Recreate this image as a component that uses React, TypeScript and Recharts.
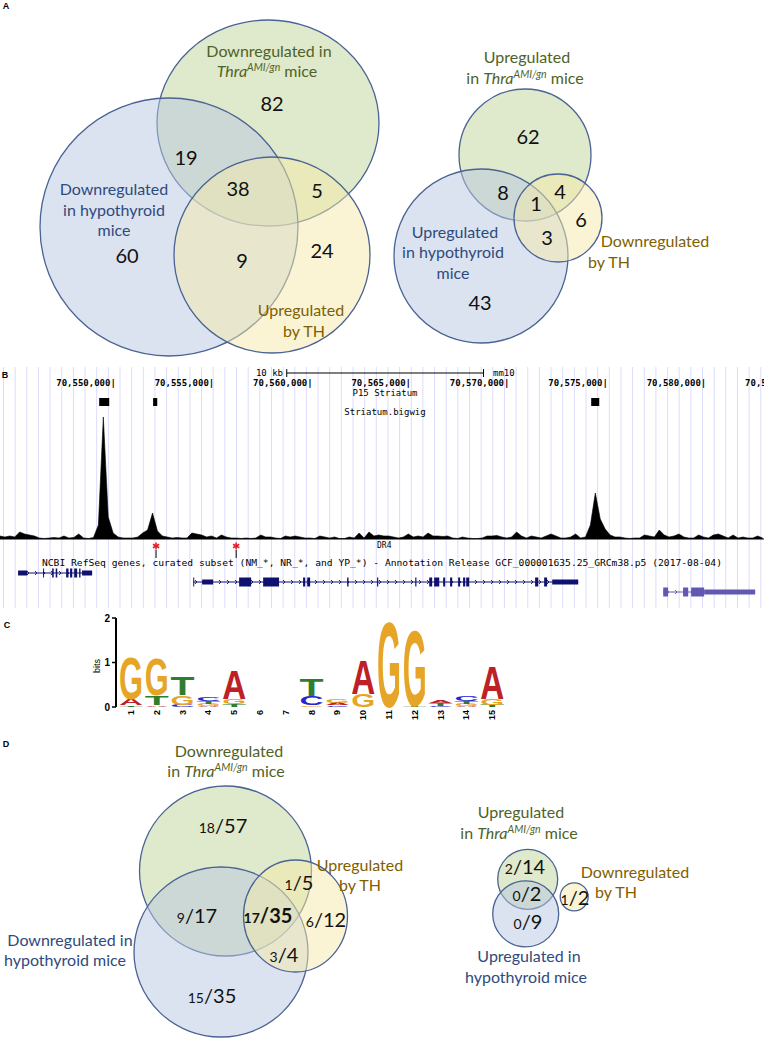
import React from 'react';
import {
  ScatterChart, Scatter, ComposedChart, Area, BarChart, Bar, XAxis, YAxis,
  CartesianGrid, ReferenceArea, ReferenceLine,
} from 'recharts';

const SANS = 'Lato, "Open Sans", sans-serif';
const MONO = '"DejaVu Sans Mono", "Liberation Mono", monospace';
const ARIAL = '"Liberation Sans", Arial, sans-serif';

const SET_COLORS: Record<string, string> = { thra: '#4f6228', hypo: '#2f4a7d', th: '#7f6000' };
const SET_FILLS: Record<string, string> = { thra: '#c0d498', hypo: '#b7c7e1', th: '#f5e9a9' };
const CIRCLE_STROKE = '#4a6394';

// ---------- Venn data (A and D) ----------
const vennSets = ['thra', 'hypo', 'th'];

const aLeftSetLabels = [['Downregulated in', 'Thra^AMI/gn mice'], ['Downregulated', 'in hypothyroid', 'mice'], ['Upregulated', 'by TH']];
const aLeftCounts = ['82', '19', '38', '5', '60', '9', '24'];

const aRightSetLabels = [['Upregulated', 'in Thra^AMI/gn mice'], ['Upregulated', 'in hypothyroid', 'mice'], ['Downregulated', 'by TH']];
const aRightCounts = ['62', '8', '4', '1', '6', '3', '43'];

const dLeftSetLabels = [['Downregulated', 'in Thra^AMI/gn mice'], ['Downregulated in', 'hypothyroid mice'], ['Upregulated', 'by TH']];
const dLeftCounts = ['18/57', '9/17', '17/35', '1/5', '6/12', '3/4', '15/35'];

const dRightSetLabels = [['Upregulated', 'in Thra^AMI/gn mice'], ['Upregulated in', 'hypothyroid mice'], ['Downregulated', 'by TH']];
const dRightCounts = ['2/14', '0/2', '0/9', '1/2'];

// layout of each diagram, in px inside its own chart box
const aLeftLayout = {
  circles: [[268, 123, 111, 103], [169, 227, 129, 129], [272, 255, 98, 98]],
  labels: [[[269, 52], [267, 72]], [[114, 190], [114, 211], [114, 231]], [[301, 311], [304, 332]]],
  counts: [[272, 104], [186, 158], [238, 189], [317, 191], [127, 256], [242, 261], [322, 251]],
  bold: [] as number[],
};
const aRightLayout = {
  circles: [[143, 155, 66, 66], [99, 256, 87, 87], [176, 218, 44, 44]],
  labels: [[[145, 58], [143, 79]], [[73, 233], [71, 253], [71, 274]], [[273, 242], [227, 263]]],
  counts: [[146, 137], [121, 193], [178, 192], [154, 204], [199, 220], [165, 238], [98, 303]],
  bold: [] as number[],
};
const dLeftLayout = {
  circles: [[225.5, 151, 86, 85], [221, 232, 87, 85], [295.5, 196, 52, 56]],
  labels: [[[229, 32], [226, 52]], [[70, 221], [65, 241]], [[360, 146], [360, 166]]],
  counts: [[223, 106], [197, 196], [268, 196], [299, 163], [326, 200], [284, 235], [212, 276]],
  bold: [2],
};
const dRightLayout = {
  circles: [[145.7, 159.3, 30, 30], [143.7, 193.8, 33, 33], [192.2, 176.8, 14, 14]],
  labels: [[[139, 93], [137, 114]], [[147, 237], [144, 258]], [[253, 153], [234, 173]]],
  counts: [[143, 147], [145, 174], [146, 202], [193, 178]],
  bold: [] as number[],
};

// ---------- Panel B: genome browser (positions in kb) ----------
const rulerTicks = [70550, 70555, 70560, 70565, 70570, 70575, 70580, 70585];
const signalStart = 70544.25;
const signalBin = 0.25;
const striatumSignal = [
  3, 2, 3, 2, 7, 5, 4, 3, 1, 0.5,
  1, 1.5, 1, 3, 1, 1.5, 5, 1, 0.5, 1.5,
  14, 122, 22, 6, 2, 1, 1, 1, 2, 6,
  9, 26, 8, 3, 2, 1, 1.5, 1, 1, 6,
  5, 4, 2, 3, 1, 4, 2, 1, 1, 0.5,
  1, 0.5, 1, 4, 2, 2, 1, 0.5, 3, 2,
  3, 2, 1, 1, 0.5, 3, 2, 1, 2, 0.5,
  0.5, 2, 1, 6, 1, 7, 3, 4, 3, 3,
  2, 1, 2, 5, 2, 3, 2, 6, 3, 3,
  2.5, 3, 1, 0.5, 2, 1, 0.5, 0.5, 1, 3,
  3, 3.5, 2, 1, 2, 7, 3, 1, 3, 2,
  1, 3, 5, 3, 1, 1, 2, 5, 1, 2,
  14, 46, 20, 10, 4, 2, 2, 1, 0.5, 1,
  1, 4, 3, 2, 9, 4, 2, 3, 5, 2,
  1, 1, 4, 2, 1, 4, 5, 3, 1, 4,
  1, 2, 1, 1, 3, 1,
];
const peakCalls = [[70549.29, 70549.8], [70552.03, 70552.24], [70574.29, 70574.7]];
const dr4Sites = [70552.18, 70556.25];
const scaleBar = [70558.82, 70568.82];
// exons: [start, end, 't' coding | 'u' utr]
const gene1Exons: [number, number, string][] = [
  [70545.17, 70545.63, 'u'], [70546.44, 70546.49, 't'], [70546.9, 70546.98, 't'], [70547.08, 70547.16, 't'],
  [70547.61, 70547.73, 't'], [70547.81, 70547.92, 't'], [70548.02, 70548.17, 't'], [70548.27, 70548.34, 't'],
  [70548.42, 70548.93, 'u'],
];
const gene2Exons: [number, number, string][] = [
  [70554.07, 70554.12, 't'], [70554.52, 70555.08, 'u'], [70556.4, 70557.01, 't'], [70557.62, 70558.43, 't'],
  [70559.65, 70559.76, 't'], [70559.86, 70560.01, 't'], [70561.89, 70561.96, 't'], [70563.41, 70563.47, 't'],
  [70565.35, 70565.41, 't'], [70566.06, 70566.21, 't'], [70566.31, 70566.57, 't'], [70566.77, 70566.87, 't'],
  [70567.12, 70567.23, 't'], [70567.53, 70567.63, 't'], [70567.78, 70567.89, 't'], [70567.94, 70568.09, 't'],
  [70571.44, 70571.6, 't'], [70571.9, 70572.05, 't'], [70572.31, 70573.63, 'u'],
];
const gene3Exons: [number, number, string][] = [
  [70577.95, 70578.2, 't'], [70578.96, 70579.22, 't'], [70579.37, 70580.03, 't'], [70580.03, 70582.62, 'u'],
];

// ---------- Panel C: sequence logo ----------
const logoPositions = ['1', '2', '3', '4', '5', '6', '7', '8', '9', '10', '11', '12', '13', '14', '15'];
const logoLetters = [
  ['T', 'A', 'G'], ['A', 'T', 'G'], ['C', 'G', 'T'], ['A', 'G', 'T', 'C'], ['T', 'G', 'A'], [], [],
  ['G', 'C', 'T'], ['C', 'A', 'G'], ['G', 'A'], ['G'], ['T', 'G'], ['C', 'T', 'A'], ['A', 'G', 'T', 'C'], ['T', 'G', 'A'],
];
const logoBits = [
  [0.04, 0.14, 0.95], [0.04, 0.22, 0.83], [0.05, 0.21, 0.41], [0.02, 0.05, 0.07, 0.1], [0.06, 0.13, 0.64], [], [],
  [0.04, 0.2, 0.38], [0.04, 0.05, 0.08], [0.3, 0.77], [1.93], [0.02, 1.73], [0.03, 0.05, 0.07], [0.02, 0.05, 0.07, 0.11], [0.05, 0.14, 0.75],
];
const LOGO_COLORS: Record<string, string> = { A: '#bd2026', C: '#2727cf', G: '#e6a526', T: '#2e7d30' };

// ---------- builders ----------
type Layout = { circles: number[][]; labels: number[][][]; counts: number[][]; bold: number[] };

function buildVenn(setLabels: string[][], counts: string[], layout: Layout) {
  const circles = vennSets.map((s, i) => ({
    x: layout.circles[i][0], y: layout.circles[i][1], rx: layout.circles[i][2], ry: layout.circles[i][3], fill: SET_FILLS[s],
  }));
  const labels = setLabels.flatMap((lines, i) =>
    lines.map((text, j) => ({ x: layout.labels[i][j][0], y: layout.labels[i][j][1], text, color: SET_COLORS[vennSets[i]] })));
  const countRows = counts.map((text, i) => ({ x: layout.counts[i][0], y: layout.counts[i][1], text, bold: layout.bold.includes(i) }));
  return { circles, labels, countRows };
}

const renderLabelLine = (text: string) => {
  const parts = text.split('Thra^AMI/gn');
  if (parts.length === 1) return text;
  return (
    <>
      {parts[0]}
      <tspan fontStyle="italic">Thra</tspan>
      <tspan fontStyle="italic" fontSize={10.5} dy={-6}>AMI/gn</tspan>
      <tspan dy={6}>{parts[1]}</tspan>
    </>
  );
};

const SetLabelShape = (p: any) => (
  <text x={p.cx} y={p.cy} dy={5} textAnchor="middle" fontFamily={SANS} fontSize={16} fill={p.payload.color}>
    {renderLabelLine(p.payload.text)}
  </text>
);

const CountShape = (p: any) => {
  const [num, den] = String(p.payload.text).split('/');
  return (
    <text x={p.cx} y={p.cy} dy={7} textAnchor="middle" fontFamily={SANS} fontSize={20}
      fontWeight={p.payload.bold ? 700 : 400} fill="#111">
      {den === undefined ? num : (<><tspan fontSize={14}>{num}</tspan><tspan>/{den}</tspan></>)}
    </text>
  );
};

const VennChart = ({ width, height, venn }: { width: number; height: number; venn: ReturnType<typeof buildVenn> }) => {
  const kx = width / width; // x domain spans the chart width
  const ky = height / height;
  return (
    <ScatterChart width={width} height={height} margin={{ top: 0, right: 0, bottom: 0, left: 0 }}>
      <XAxis type="number" dataKey="x" domain={[0, width]} hide height={0} />
      <YAxis type="number" dataKey="y" domain={[0, height]} reversed hide width={0} />
      <Scatter data={venn.circles} isAnimationActive={false}
        shape={(p: any) => (
          <ellipse cx={p.cx} cy={p.cy} rx={p.payload.rx * kx} ry={p.payload.ry * ky}
            fill={p.payload.fill} fillOpacity={0.5} stroke={CIRCLE_STROKE} strokeWidth={1.3} />
        )} />
      <Scatter data={venn.labels} isAnimationActive={false} shape={SetLabelShape} />
      <Scatter data={venn.countRows} isAnimationActive={false} shape={CountShape} />
    </ScatterChart>
  );
};

const vennALeft = buildVenn(aLeftSetLabels, aLeftCounts, aLeftLayout);
const vennARight = buildVenn(aRightSetLabels, aRightCounts, aRightLayout);
const vennDLeft = buildVenn(dLeftSetLabels, dLeftCounts, dLeftLayout);
const vennDRight = buildVenn(dRightSetLabels, dRightCounts, dRightLayout);

// genome chart geometry
const GENOME_W = 820;
const GENOME_H = 241;
const PX_PER_KB = 19.68;
const X0 = 70544.25;
const X1 = X0 + GENOME_W / PX_PER_KB;
const Y_MIN = -69;
const Y_MAX = 172;
const gridX = Array.from({ length: 71 }, (_, j) => 3.5 + j * 11.65);

const signalRows = striatumSignal.map((v, i) => ({ pos: signalStart + i * signalBin, signal: v }));
const rulerRows = rulerTicks.map((t) => ({ pos: t, y: 156, label: `${(t * 1000).toLocaleString('en-US')}|` }));
const dr4Rows = dr4Sites.map((pos) => ({ pos, y: -7 }));
const genes = [
  { exons: gene1Exons, row: -34, color: '#10106f' },
  { exons: gene2Exons, row: -43, color: '#10106f' },
  { exons: gene3Exons, row: -53, color: '#6158b2' },
];

const RulerLabel = (p: any) => (
  <text x={p.cx + 2.7} y={p.cy} dy={3.2} textAnchor="end" fontFamily={MONO} fontSize={9} fontWeight={700} fill="#000">
    {p.payload.label}
  </text>
);

const Dr4Mark = (p: any) => {
  const { cx, cy } = p;
  const r = 3.6;
  return (
    <g>
      <g stroke="#e3202a" strokeWidth={1.6}>
        <line x1={cx} y1={cy - r} x2={cx} y2={cy + r} />
        <line x1={cx - r * 0.87} y1={cy - r / 2} x2={cx + r * 0.87} y2={cy + r / 2} />
        <line x1={cx - r * 0.87} y1={cy + r / 2} x2={cx + r * 0.87} y2={cy - r / 2} />
      </g>
      <line x1={cx} y1={cy + 4} x2={cx} y2={cy + 12} stroke="#000" strokeWidth={1} />
    </g>
  );
};

const GenomeTrack = () => (
  <ComposedChart width={GENOME_W} height={GENOME_H} data={signalRows} margin={{ top: 0, right: 0, bottom: 0, left: 0 }}>
    <CartesianGrid horizontal={false} verticalPoints={gridX} stroke="#dcdcfa" strokeWidth={1} />
    <XAxis type="number" dataKey="pos" domain={[X0, X1]} allowDataOverflow hide height={0} />
    <YAxis type="number" domain={[Y_MIN, Y_MAX]} allowDataOverflow hide width={0} />
    <Area dataKey="signal" type="linear" baseValue={0} stroke="#000" strokeWidth={0.6} fill="#000" fillOpacity={1}
      dot={false} activeDot={false} isAnimationActive={false} />
    <ReferenceLine y={0} stroke="#000" strokeWidth={1} />
    {peakCalls.map(([a, b], i) => (
      <ReferenceArea key={`pk${i}`} x1={a} x2={b} y1={133} y2={141} fill="#000" fillOpacity={1} stroke="none" ifOverflow="visible" />
    ))}
    <ReferenceLine segment={[{ x: scaleBar[0], y: 166 }, { x: scaleBar[1], y: 166 }]} stroke="#000" strokeWidth={1} />
    <ReferenceLine segment={[{ x: scaleBar[0], y: 162 }, { x: scaleBar[0], y: 170 }]} stroke="#000" strokeWidth={1} />
    <ReferenceLine segment={[{ x: scaleBar[1], y: 162 }, { x: scaleBar[1], y: 170 }]} stroke="#000" strokeWidth={1} />
    <Scatter data={rulerRows} dataKey="y" isAnimationActive={false} shape={RulerLabel} />
    <Scatter data={dr4Rows} dataKey="y" isAnimationActive={false} shape={Dr4Mark} />
    {genes.map((g, gi) => {
      const start = Math.min(...g.exons.map((e) => e[0]));
      const end = Math.max(...g.exons.map((e) => e[1]));
      return [
        <ReferenceArea key={`in${gi}`} x1={start} x2={end} y1={g.row - 4} y2={g.row + 4}
          fill={`url(#intron${gi})`} fillOpacity={1} stroke="none" ifOverflow="visible" />,
        ...g.exons.map(([a, b, kind], ei) => {
          const h = kind === 't' ? 4.5 : 2.5;
          return (
            <ReferenceArea key={`ex${gi}-${ei}`} x1={a} x2={b} y1={g.row - h} y2={g.row + h}
              fill={g.color} fillOpacity={1} stroke="none" ifOverflow="visible" />
          );
        }),
      ];
    })}
  </ComposedChart>
);

// logo rows
const logoRows = logoPositions.map((pos, i) => {
  const row: Record<string, any> = { pos };
  for (let k = 0; k < 4; k++) {
    row[`b${k}`] = logoBits[i][k] ?? 0;
    row[`l${k}`] = logoLetters[i][k] ?? '';
  }
  return row;
});

const letterShape = (k: number) => (p: any) => {
  const { x, y, width, height, payload } = p;
  const letter = payload[`l${k}`];
  if (!letter || !height || height <= 0) return <g />;
  const F = 100;
  const cap = 0.716;
  return (
    <text x={0} y={0} fontSize={F} fontFamily={ARIAL} fontWeight={700} fill={LOGO_COLORS[letter]}
      textLength={width} lengthAdjust="spacingAndGlyphs"
      transform={`translate(${x},${y + height}) scale(1,${height / (F * cap)})`}>
      {letter}
    </text>
  );
};

const LogoTick = (p: any) => {
  const { x, y, payload } = p;
  return (
    <text x={x} y={y + 1} transform={`rotate(-90 ${x} ${y + 1})`} textAnchor="end" dy="0.35em"
      fontFamily={ARIAL} fontSize={9} fontWeight={700} fill="#000">
      {payload.value}
    </text>
  );
};

const SequenceLogo = () => (
  <BarChart width={520} height={125} data={logoRows} margin={{ top: 18, right: 15, bottom: 4, left: 96 }} barCategoryGap={1}>
    <XAxis dataKey="pos" type="category" height={14} tickLine={false} axisLine={false} interval={0}
      tickSize={0} tickMargin={2} padding={{ left: 2, right: 0 }} tick={<LogoTick />} />
    <YAxis type="number" domain={[0, 2]} ticks={[0, 1, 2]} width={20} tickSize={4} tickMargin={2}
      tick={{ fontFamily: ARIAL, fontSize: 10, fontWeight: 700, fill: '#000' }}
      axisLine={{ stroke: '#000', strokeWidth: 2 }} tickLine={{ stroke: '#000', strokeWidth: 1.5 }} />
    {[0, 1, 2, 3].map((k) => (
      <Bar key={k} dataKey={`b${k}`} stackId="logo" isAnimationActive={false} shape={letterShape(k)} />
    ))}
  </BarChart>
);

const Abs = ({ left, top, children }: { left: number; top: number; children: React.ReactNode }) => (
  <div style={{ position: 'absolute', left, top }}>{children}</div>
);

// local svg y of each gene row inside the genome chart
const rowLocalY = genes.map((g) => Y_MAX - g.row);

export default function App() {
  return (
    <div style={{ position: 'absolute', left: 0, top: 0, width: 764, height: 1039, overflow: 'hidden', background: '#fff' }}>
      <svg width={0} height={0} style={{ position: 'absolute' }}>
        <defs>
          {genes.map((g, gi) => (
            <pattern key={gi} id={`intron${gi}`} patternUnits="userSpaceOnUse" x={0} y={rowLocalY[gi] - 4} width={8} height={8}>
              <line x1={0} y1={4} x2={8} y2={4} stroke={g.color} strokeWidth={1} />
              <polyline points="3,2 5,4 3,6" fill="none" stroke={g.color} strokeWidth={0.9} />
            </pattern>
          ))}
        </defs>
      </svg>

      <Abs left={0} top={0}><VennChart width={382} height={365} venn={vennALeft} /></Abs>
      <Abs left={382} top={0}><VennChart width={382} height={365} venn={vennARight} /></Abs>
      <Abs left={0} top={367}><GenomeTrack /></Abs>
      <Abs left={0} top={600}><SequenceLogo /></Abs>
      <Abs left={0} top={720}><VennChart width={430} height={319} venn={vennDLeft} /></Abs>
      <Abs left={382} top={720}><VennChart width={382} height={319} venn={vennDRight} /></Abs>

      <svg width={764} height={1039} style={{ position: 'absolute', left: 0, top: 0, pointerEvents: 'none' }}>
        <g fontFamily={ARIAL} fontWeight={700} fontSize={9} fill="#000" textAnchor="middle">
          <text x={6} y={9}>A</text>
          <text x={5} y={378}>B</text>
          <text x={7} y={628}>C</text>
          <text x={6} y={747}>D</text>
        </g>
        <g fontFamily={MONO} fontSize={9} fill="#000">
          <text x={283} y={376} textAnchor="end">10 kb</text>
          <text x={493} y={376}>mm10</text>
          <text x={385} y={396} textAnchor="middle">P15 Striatum</text>
          <text x={385} y={415} textAnchor="middle">Striatum.bigwig</text>
          <text x={377} y={548} fontSize={8}>DR4</text>
          <text x={42} y={566} textLength={680} lengthAdjust="spacingAndGlyphs">
            NCBI RefSeq genes, curated subset (NM_*, NR_*, and YP_*) - Annotation Release GCF_000001635.25_GRCm38.p5 (2017-08-04)
          </text>
        </g>
        <text x={100} y={666} transform="rotate(-90 100 666)" textAnchor="middle" fontFamily={ARIAL} fontSize={9} fill="#000">bits</text>
      </svg>
    </div>
  );
}
